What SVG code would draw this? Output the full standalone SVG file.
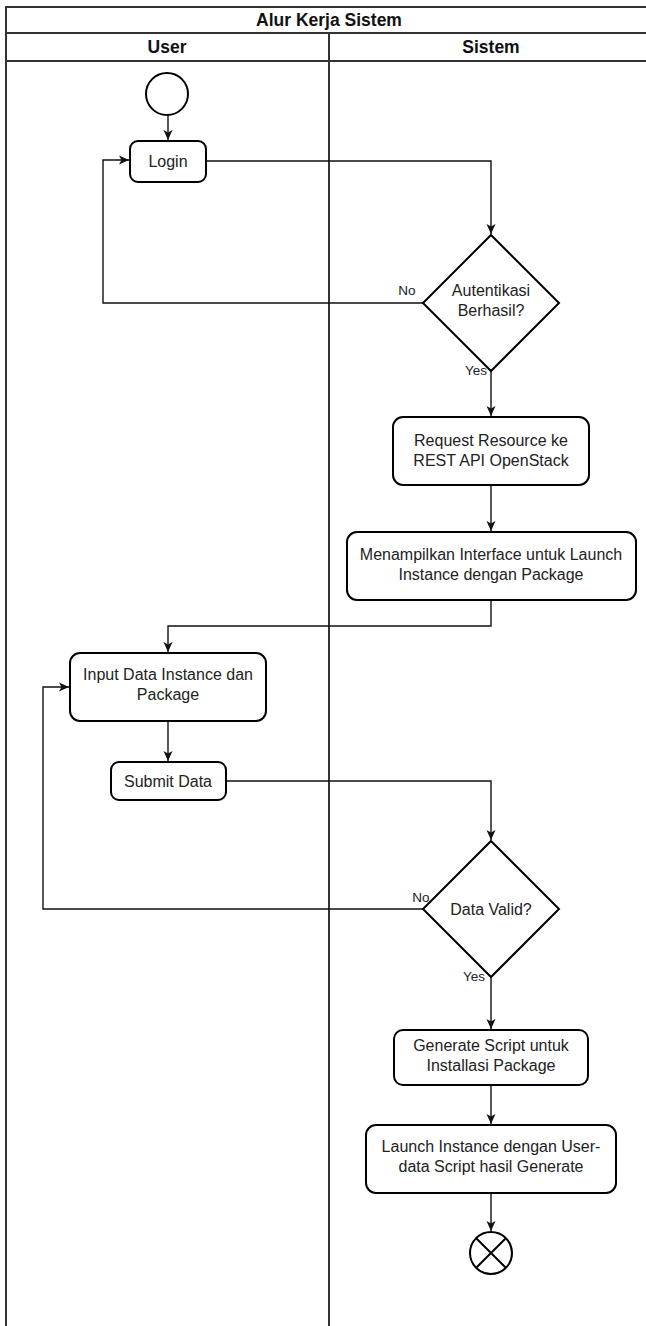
<svg xmlns="http://www.w3.org/2000/svg" width="646" height="1326" viewBox="0 0 646 1326">
<defs>
<style>
.lane{fill:none;stroke:#333;stroke-width:2}
.node{fill:#fff;stroke:#000;stroke-width:2}
.t{font-family:"Liberation Sans",Arial,sans-serif;font-size:16px;fill:#222;text-anchor:middle}
.h{font-family:"Liberation Sans",Arial,sans-serif;font-size:17.5px;font-weight:bold;fill:#111;text-anchor:middle}
.lbl{font-family:"Liberation Sans",Arial,sans-serif;font-size:13.5px;fill:#222;text-anchor:middle}
.edge{fill:none;stroke:#111;stroke-width:1.4}
</style>
<marker id="arr" markerUnits="userSpaceOnUse" markerWidth="12" markerHeight="12" viewBox="0 0 12 12" refX="11" refY="6" orient="auto">
<path d="M1,1.5 L11,6 L1,10.5 L3.5,6 Z" fill="#111"/>
</marker>
</defs>
<rect width="646" height="1326" fill="#fff"/>
<g id="pool">
<path class="lane" d="M6,1330 V7 H660 M6,33 H660 M6,61 H660 M329,33 V1330"/>
<text class="h" x="329" y="26">Alur Kerja Sistem</text>
<text class="h" x="167" y="53">User</text>
<text class="h" x="491" y="53">Sistem</text>
</g>
<g id="connectors">
<path class="edge" d="M168,115 V140" marker-end="url(#arr)"/>
<path class="edge" d="M206,161 H491 V234" marker-end="url(#arr)"/>
<path class="edge" d="M423,303 H103 V160 H129" marker-end="url(#arr)"/>
<path class="edge" d="M491,371 V416" marker-end="url(#arr)"/>
<path class="edge" d="M491,485 V531" marker-end="url(#arr)"/>
<path class="edge" d="M491,600 V626 H168 V652" marker-end="url(#arr)"/>
<path class="edge" d="M168,721 V761" marker-end="url(#arr)"/>
<path class="edge" d="M226,781 H491 V840" marker-end="url(#arr)"/>
<path class="edge" d="M423,909 H43 V687 H69" marker-end="url(#arr)"/>
<path class="edge" d="M491,977 V1029" marker-end="url(#arr)"/>
<path class="edge" d="M491,1085 V1124" marker-end="url(#arr)"/>
<path class="edge" d="M491,1193 V1231" marker-end="url(#arr)"/>
<text class="lbl" x="407" y="295">No</text>
<text class="lbl" x="476" y="375">Yes</text>
<text class="lbl" x="421" y="902">No</text>
<text class="lbl" x="474" y="981">Yes</text>
</g>
<g id="start"><circle class="node" cx="167" cy="94" r="21"/></g>
<g id="login"><rect class="node" x="130" y="141" width="76" height="41" rx="8"/><text class="t" x="168" y="167">Login</text></g>
<g id="auth"><polygon class="node" points="491,235 559,303 491,371 423,303"/><text class="t" x="491" y="296">Autentikasi</text><text class="t" x="491" y="316">Berhasil?</text></g>
<g id="request"><rect class="node" x="393" y="417" width="196" height="68" rx="10"/><text class="t" x="491" y="446">Request Resource ke</text><text class="t" x="491" y="466">REST API OpenStack</text></g>
<g id="interface"><rect class="node" x="347" y="532" width="289" height="68" rx="10"/><text class="t" x="491" y="560">Menampilkan Interface untuk Launch</text><text class="t" x="491" y="580">Instance dengan Package</text></g>
<g id="input"><rect class="node" x="70" y="653" width="196" height="68" rx="10"/><text class="t" x="168" y="680">Input Data Instance dan</text><text class="t" x="168" y="700">Package</text></g>
<g id="submit"><rect class="node" x="111" y="762" width="115" height="38" rx="8"/><text class="t" x="168" y="787">Submit Data</text></g>
<g id="valid"><polygon class="node" points="491,841 559,909 491,977 423,909"/><text class="t" x="491" y="915">Data Valid?</text></g>
<g id="generate"><rect class="node" x="394" y="1030" width="194" height="55" rx="9"/><text class="t" x="491" y="1051">Generate Script untuk</text><text class="t" x="491" y="1071">Installasi Package</text></g>
<g id="launch"><rect class="node" x="366" y="1125" width="250" height="68" rx="10"/><text class="t" x="491" y="1152">Launch Instance dengan User-</text><text class="t" x="491" y="1172">data Script hasil Generate</text></g>
<g id="end"><circle class="node" cx="491" cy="1253" r="21"/><path d="M476.2,1238.2 L505.8,1267.8 M505.8,1238.2 L476.2,1267.8" stroke="#000" stroke-width="2"/></g>
</svg>
